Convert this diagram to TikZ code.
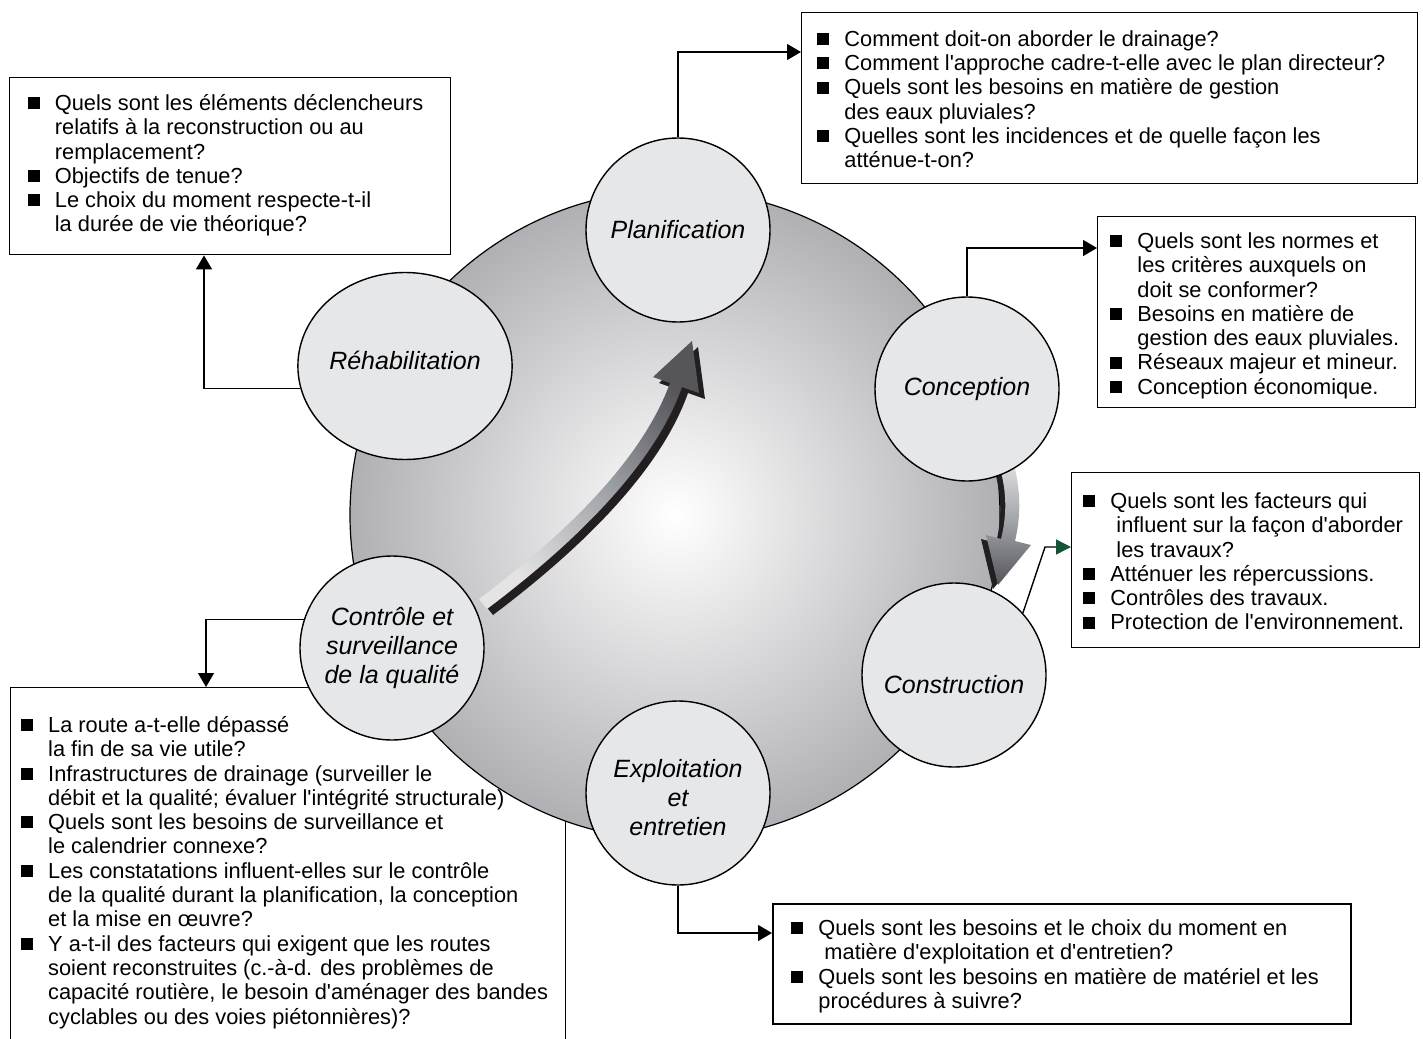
\documentclass[tikz,border=0pt]{standalone}
\usepackage{fontspec}
\setmainfont{Liberation Sans}
\usepackage{tikz}
\usetikzlibrary{arrows.meta}
\usetikzlibrary{positioning}
\usetikzlibrary{shapes.geometric}

\definecolor{ringgray}{RGB}{176,176,180}
\definecolor{discgray}{RGB}{230,231,233}
\definecolor{tailgray}{RGB}{228,228,228}
\definecolor{midgray}{RGB}{160,163,168}
\definecolor{headgray}{RGB}{85,85,90}
\definecolor{shadowblack}{RGB}{35,31,32}
\definecolor{darkgreen}{RGB}{20,85,55}

\newcommand{\bul}{\makebox[13.5pt][l]{\rule{0pt}{9pt}\rule[0.6pt]{6pt}{6pt}}}
\newcommand{\cont}{\hspace*{13.5pt}}
\newcommand{\ap}{\textquotesingle}

\begin{document}
\begin{tikzpicture}[x=0.5pt,y=-0.5pt]
\tikzstyle{stage node}=[circle,draw,line width=0.7pt,fill=discgray,minimum size=92pt,inner sep=0,align=center,font=\fontsize{12.5}{14.5}\selectfont\itshape]
\tikzstyle{wide stage}=[stage node,ellipse,minimum width=104pt,minimum height=93.5pt]
\tikzstyle{question box}=[rectangle,draw,line width=0.7pt,fill=white,anchor=north west,inner sep=0]
\tikzstyle{question text}=[anchor=north west,inner sep=0,align=left,font=\fontsize{10.9}{12.15}\selectfont]
\tikzset{
  cycle disc/.style = {circle,draw,line width=0.6pt,minimum size=325pt,inner sep=0,inner color=white,outer color=ringgray},
  link/.style = {line width=0.7pt,-{Triangle[length=7pt,width=8pt]}},
  green link/.style = {line width=0.7pt,-{Triangle[length=7.5pt,width=7.5pt,color=darkgreen]}},
  rise shadow/.style = {preaction={fill=shadowblack,transform canvas={xshift=3pt,yshift=-3pt}}},
  fall shadow/.style = {preaction={fill=shadowblack,transform canvas={xshift=-2.5pt,yshift=-2pt}}}
}
\useasboundingbox (0,0) rectangle (1423,1038);
\clip (0,0) rectangle (1423,1038);

    %%%%%%%%%%%%%%%%%%%%%%%%%%%%%%%%%%%
    \node[question box,minimum width=220.5pt,minimum height=88.5pt] (rehbox)  at (9,77)     {};
    \node[question box,minimum width=308pt,minimum height=85.5pt]   (planbox) at (801,12)   {};
    \node[question box,minimum width=159pt,minimum height=95.5pt]   (concbox) at (1097,216) {};
    \node[question box,minimum width=174pt,minimum height=87.5pt]   (consbox) at (1071,472) {};
    \node[question box,line width=1pt,minimum width=289pt,minimum height=60pt] (explbox) at (772,903) {};
    \node[question box,minimum width=277.5pt,minimum height=185pt]  (ctrlbox) at (10,687)   {};
    %%%%%%%%%%%%%%%%%%%%%%%%%%%%%%%%%%%
    \node[cycle disc] (cycle) at (675,515) {};

    \shade[rise shadow,top color=headgray,bottom color=tailgray,middle color=midgray,shading angle=-45]
      (479,599) .. controls (583,521) and (646,449) .. (670,383) -- (653,377) -- (692,341)
      -- (699,393) -- (682,387) .. controls (658,455) and (592,530) .. (487,609) -- cycle;
    \shade[fall shadow,top color=tailgray,bottom color=headgray,middle color=midgray]
      (998,462) .. controls (1006,486) and (1008,511) .. (1001,539) -- (986,535) -- (998,585)
      -- (1031,545) -- (1015,541) .. controls (1022,512) and (1020,484) .. (1012,458) -- cycle;
    %%%%%%%%%%%%%%%%%%%%%%%%%%%%%%%%%%%
    \node[stage node] (plan) at (678,230) {Planification};
    \node[wide stage] (reh)  at (405,366) {\rule[-6pt]{0pt}{6pt}Réhabilitation};
    \node[stage node] (conc) at (967,389) {Conception};
    \node[stage node] (cons) at (954,675) {\rule{0pt}{19pt}Construction};
    \node[stage node] (expl) at (678,793) {\rule{0pt}{13.3pt}Exploitation\\et\\entretien};
    \node[stage node] (ctrl) at (392,648) {Contrôle et\\surveillance\\de la qualité};
    %%%%%%%%%%%%%%%%%%%%%%%%%%%%%%%%%%%
    \coordinate (conskink) at ([xshift=-13pt,yshift=-37.5pt]consbox.north west);
    \draw[link] (plan.north) |- ([yshift=-20pt]planbox.north west);
    \draw[link] (conc.north) |- ([yshift=-16pt]concbox.north west);
    \draw[green link] (cons.42) -- (conskink) -- ([yshift=-37.5pt]consbox.north west);
    \draw[link] (expl.south) |- ([yshift=-15pt]explbox.north west);
    \draw[link] (reh.192) -| ([xshift=97.5pt]rehbox.south west);
    \draw[link] (ctrl.162) -| ([xshift=98pt]ctrlbox.north west);
    %%%%%%%%%%%%%%%%%%%%%%%%%%%%%%%%%%%
    \node[question text] (rehtxt) [below right=7.5pt and 9.25pt of rehbox.north west] {%
      \bul Quels sont les éléments déclencheurs\\
      \cont relatifs à la reconstruction ou au\\
      \cont remplacement?\\
      \bul Objectifs de tenue?\\
      \bul Le choix du moment respecte-t-il\\
      \cont la durée de vie théorique?};
    \node[question text] (plantxt) [below right=8pt and 8pt of planbox.north west] {%
      \bul Comment doit-on aborder le drainage?\\
      \bul Comment l\ap approche cadre-t-elle avec le plan directeur?\\
      \bul Quels sont les besoins en matière de gestion\\
      \cont des eaux pluviales?\\
      \bul Quelles sont les incidences et de quelle façon les\\
      \cont atténue-t-on?};
    \node[question text] (conctxt) [below right=7pt and 6.5pt of concbox.north west] {%
      \bul Quels sont les normes et\\
      \cont les critères auxquels on\\
      \cont doit se conformer?\\
      \bul Besoins en matière de\\
      \cont gestion des eaux pluviales.\\
      \bul Réseaux majeur et mineur.\\
      \bul Conception économique.};
    \node[question text] (constxt) [below right=9pt and 6pt of consbox.north west] {%
      \bul Quels sont les facteurs qui\\
      \cont\ influent sur la façon d\ap aborder\\
      \cont\ les travaux?\\
      \bul Atténuer les répercussions.\\
      \bul Contrôles des travaux.\\
      \bul Protection de l\ap environnement.};
    \node[question text] (expltxt) [below right=7pt and 9.5pt of explbox.north west] {%
      \bul Quels sont les besoins et le choix du moment en\\
      \cont\ matière d\ap exploitation et d\ap entretien?\\
      \bul Quels sont les besoins en matière de matériel et les\\
      \cont procédures à suivre?};
    \node[question text] (ctrltxt) [below right=13.5pt and 5.4pt of ctrlbox.north west] {%
      \bul La route a-t-elle dépassé\\
      \cont la fin de sa vie utile?\\
      \bul Infrastructures de drainage (surveiller le\\
      \cont débit et la qualité; évaluer l\ap intégrité structurale)\\
      \bul Quels sont les besoins de surveillance et\\
      \cont le calendrier connexe?\\
      \bul Les constatations influent-elles sur le contrôle\\
      \cont de la qualité durant la planification, la conception\\
      \cont et la mise en œuvre?\\
      \bul Y a-t-il des facteurs qui exigent que les routes\\
      \cont soient reconstruites (c.-à-d. des problèmes de\\
      \cont capacité routière, le besoin d\ap aménager des bandes\\
      \cont cyclables ou des voies piétonnières)?};
\end{tikzpicture}
\end{document}
